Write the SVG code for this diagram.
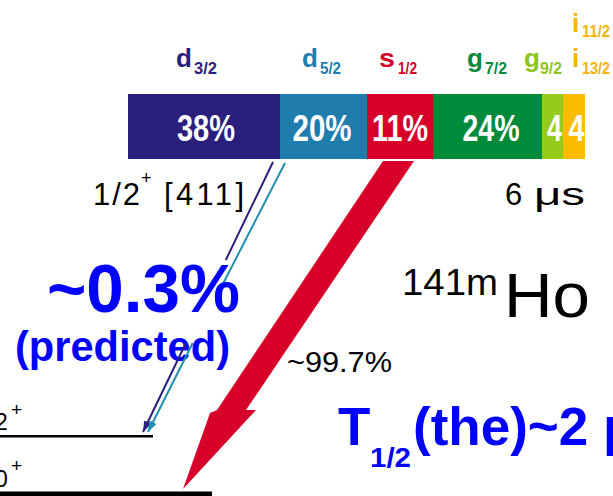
<svg xmlns="http://www.w3.org/2000/svg" width="613" height="496" viewBox="0 0 613 496">
<style>
text{font-family:"Liberation Sans",Arial,sans-serif}
.lab{font-weight:bold;font-size:26px}
.sub{font-weight:bold;font-size:16px}
.pct{font-weight:bold;font-size:37px;fill:#fff;text-anchor:middle}
.blk{fill:#000}
.blu{fill:#0000ff;font-weight:bold}
</style>
<defs>
<marker id="hn" markerUnits="userSpaceOnUse" markerWidth="12" markerHeight="8" refX="11" refY="4" orient="auto"><path d="M0,0 L11,4 L0,8 Z" fill="#2a1f7c"/></marker>
<marker id="ht" markerUnits="userSpaceOnUse" markerWidth="12" markerHeight="8" refX="11" refY="4" orient="auto"><path d="M0,0 L11,4 L0,8 Z" fill="#1f8fb0"/></marker>
</defs>
<rect width="613" height="496" fill="#fff"/>

<g id="labels">
<text class="lab" x="176" y="67" fill="#2a1f7c">d</text><text class="sub" x="194" y="74" fill="#2a1f7c" textLength="23" lengthAdjust="spacingAndGlyphs">3/2</text>
<text class="lab" x="302" y="67" fill="#1f7dae">d</text><text class="sub" x="320" y="74" fill="#1f7dae" textLength="21" lengthAdjust="spacingAndGlyphs">5/2</text>
<text class="lab" x="379" y="67" fill="#d7002b" textLength="16" lengthAdjust="spacingAndGlyphs">s</text><text class="sub" x="398" y="74" fill="#d7002b" textLength="19" lengthAdjust="spacingAndGlyphs">1/2</text>
<text class="lab" x="467" y="67" fill="#0a8a3c">g</text><text class="sub" x="485" y="74" fill="#0a8a3c" textLength="22" lengthAdjust="spacingAndGlyphs">7/2</text>
<text class="lab" x="524" y="67" fill="#8fc31f">g</text><text class="sub" x="540" y="74" fill="#8fc31f" textLength="22" lengthAdjust="spacingAndGlyphs">9/2</text>
<text class="lab" x="572" y="32" fill="#f5b400">i</text><text class="sub" x="582" y="37" fill="#f5b400" textLength="28" lengthAdjust="spacingAndGlyphs">11/2</text>
<text class="lab" x="572" y="67" fill="#f5b400">i</text><text class="sub" x="582" y="74" fill="#f5b400" textLength="28" lengthAdjust="spacingAndGlyphs">13/2</text>
</g>

<g id="bar">
<rect x="128" y="94" width="152" height="65" fill="#2a1f7c"/>
<rect x="280" y="94" width="87" height="65" fill="#1f7dae"/>
<rect x="367" y="94" width="66" height="65" fill="#d7002b"/>
<rect x="433" y="94" width="109" height="65" fill="#028a3b"/>
<rect x="542" y="94" width="21" height="65" fill="#97cb1a"/>
<rect x="563" y="94" width="22" height="65" fill="#fcbc00"/>
<text class="pct" x="206" y="141" textLength="58" lengthAdjust="spacingAndGlyphs">38%</text>
<text class="pct" x="322" y="141" textLength="59" lengthAdjust="spacingAndGlyphs">20%</text>
<text class="pct" x="400" y="141" textLength="56" lengthAdjust="spacingAndGlyphs">11%</text>
<text class="pct" x="491" y="141" textLength="57" lengthAdjust="spacingAndGlyphs">24%</text>
<text class="pct" x="554.5" y="141" textLength="15" lengthAdjust="spacingAndGlyphs">4</text>
<text class="pct" x="576.5" y="141" textLength="16" lengthAdjust="spacingAndGlyphs">4</text>
</g>

<g id="levels">
<rect x="0" y="435" width="153" height="2.5" fill="#000"/>
<rect x="0" y="491.5" width="212" height="4.5" fill="#000"/>
<text class="blk" x="-5" y="430" font-size="23">2</text>
<text class="blk" x="11" y="416" font-size="19">+</text>
<text class="blk" x="-5" y="487" font-size="23">0</text>
<text class="blk" x="11" y="472" font-size="19">+</text>
</g>

<g id="state">
<text class="blk" x="93" y="205" font-size="31" textLength="47" lengthAdjust="spacing">1/2</text>
<text class="blk" x="141" y="184" font-size="18">+</text>
<text class="blk" x="164" y="205" font-size="31" textLength="80" lengthAdjust="spacing">[411]</text>
<text class="blk" x="505" y="205" font-size="31">6</text>
<text class="blk" x="534" y="205" font-size="31" textLength="51" lengthAdjust="spacingAndGlyphs">μs</text>
<text class="blk" x="402" y="295" font-size="37" textLength="96" lengthAdjust="spacingAndGlyphs">141m</text>
<text class="blk" x="504" y="317" font-size="63" textLength="86" lengthAdjust="spacingAndGlyphs">Ho</text>
</g>

<g id="annotations">
<text class="blu" x="15" y="361" font-size="42" textLength="215" lengthAdjust="spacingAndGlyphs">(predicted)</text>
<text class="blk" x="287" y="372" font-size="29" textLength="105" lengthAdjust="spacingAndGlyphs">~99.7%</text>
<text class="blu" x="338" y="445" font-size="53">T</text>
<text class="blu" x="370" y="467" font-size="27" textLength="41" lengthAdjust="spacingAndGlyphs">1/2</text>
<text class="blu" x="413" y="445" font-size="53">(the)~2 μ</text>
</g>

<g id="connectors">
<path d="M273,162 L225.8,260 M185.9,343 L143,432" fill="none" stroke="#2a1f7c" stroke-width="2" marker-end="url(#hn)"/>
<path d="M285,163 L222.4,285 M192.7,343 L148,432" fill="none" stroke="#1f8fb0" stroke-width="2" marker-end="url(#ht)"/>
<polygon points="383,161 414,161 246,410 256,410 183,489 210,413 217,410" fill="#d7002b"/>
</g>

<g id="big">
<text class="blu" x="47" y="312" font-size="68" textLength="193" lengthAdjust="spacingAndGlyphs">~0.3%</text>
</g>
</svg>
